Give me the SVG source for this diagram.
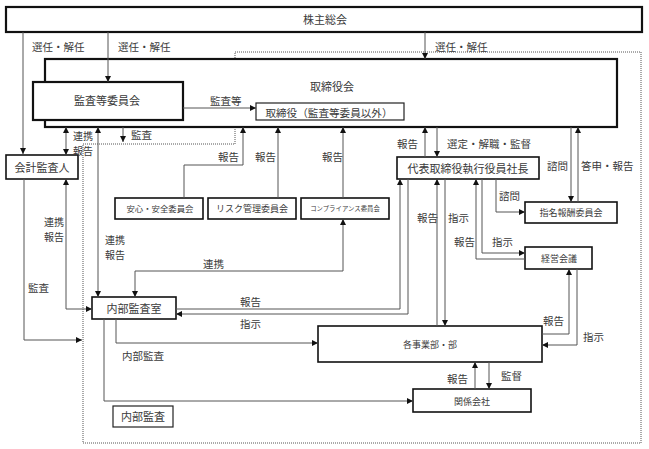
<svg xmlns="http://www.w3.org/2000/svg" width="649" height="449" viewBox="0 0 649 449">
<defs>
<marker id="ah" viewBox="0 0 6 6" refX="6" refY="3" markerWidth="6" markerHeight="6" orient="auto-start-reverse" markerUnits="userSpaceOnUse"><path d="M0,0 L6,3 L0,6 z" fill="#111"/></marker>
<style>
text{font-family:"Noto Sans CJK JP","Noto Sans",sans-serif;fill:#3a3a3a;dominant-baseline:central}
.lbl{font-size:10.5px}
.two{font-size:10px}
.nt{font-size:11px;text-anchor:middle}
.st{font-size:9px;text-anchor:middle}
.thick{fill:#fff;stroke:#111;stroke-width:2.2}
.mid{fill:#fff;stroke:#111;stroke-width:1.6}
.thin{fill:#fff;stroke:#222;stroke-width:1.2}
.c{fill:none;stroke:#555;stroke-width:1;marker-end:url(#ah)}
.d{fill:none;stroke:#555;stroke-width:1;marker-start:url(#ah);marker-end:url(#ah)}
.dot{fill:none;stroke:#555;stroke-width:1;stroke-dasharray:1,1}
</style>
</defs>
<rect width="649" height="449" fill="#fff"/>
<polygon class="dot" points="83,144 235,144 235,52 641,52 641,443 83,443"/>
<g id="n-kabunushi"><rect class="thick" x="6" y="7" width="636" height="25"/><text class="nt" x="325" y="19">株主総会</text></g>
<g id="n-torishimariyakukai"><rect class="thick" x="45" y="59" width="572" height="68"/><text class="nt" x="332" y="86">取締役会</text></g>
<g id="n-kansa"><rect class="thick" x="33" y="82" width="150" height="38"/><text class="nt" x="107" y="100">監査等委員会</text></g>
<g id="n-torishimariyaku"><rect class="thin" x="256" y="103" width="148" height="17"/><text class="nt" x="329" y="112" style="font-size:10.6px">取締役（監査等委員以外）</text></g>
<g id="n-kaikei"><rect class="mid" x="6" y="155" width="72" height="24"/><text class="nt" x="42" y="167">会計監査人</text></g>
<g id="n-shacho"><rect class="mid" x="397" y="157" width="142" height="22"/><text class="nt" x="468" y="168">代表取締役執行役員社長</text></g>
<g id="n-anshin"><rect class="mid" x="115" y="198" width="88" height="21"/><text class="st" x="160" y="208" style="font-size:8.4px">安心・安全委員会</text></g>
<g id="n-risk"><rect class="mid" x="208" y="198" width="88" height="21"/><text class="st" x="252" y="208">リスク管理委員会</text></g>
<g id="n-comp"><rect class="mid" x="301" y="198" width="88" height="21"/><text class="st" x="345" y="208" style="font-size:6.4px">コンプライアンス委員会</text></g>
<g id="n-shimei"><rect class="mid" x="525" y="202" width="92" height="21"/><text class="st" x="571" y="212">指名報酬委員会</text></g>
<g id="n-keiei"><rect class="mid" x="525" y="247" width="67" height="22"/><text class="st" x="559" y="258">経営会議</text></g>
<g id="n-naibu"><rect class="mid" x="92" y="297" width="84" height="22"/><text class="nt" x="134" y="308">内部監査室</text></g>
<g id="n-jigyo"><rect class="mid" x="318" y="326" width="224" height="36"/><text class="st" x="430" y="344">各事業部・部</text></g>
<g id="n-kankei"><rect class="mid" x="413" y="389" width="118" height="23"/><text class="st" x="472" y="401">関係会社</text></g>
<g id="n-naibukansa-box"><rect class="thin" x="113" y="406" width="60" height="21"/><text class="nt" x="143" y="416">内部監査</text></g>
<g id="connectors">
<path class="c" d="M23,32 V154"/>
<path class="c" d="M108,32 V82"/>
<path class="c" d="M425,32 V59"/>
<path class="c" d="M183,108 H256"/>
<path class="d" d="M66,127 V155"/>
<path class="d" d="M98,127 V297"/>
<path class="c" d="M123,127 V142"/>
<path class="c" d="M24,179 V340 H82"/>
<path class="d" d="M66,179 V309 H92"/>
<path class="d" d="M343,219 V271 H135 V297"/>
<path class="c" d="M184,198 V165 H243 V127"/>
<path class="c" d="M278,198 V127"/>
<path class="c" d="M343,198 V127"/>
<path class="c" d="M425,157 V127"/>
<path class="c" d="M437,127 V157"/>
<path class="c" d="M571,127 V202"/>
<path class="c" d="M578,202 V127"/>
<path class="c" d="M496,179 V212 H525"/>
<path class="c" d="M482,179 V253 H525"/>
<path class="c" d="M525,259 H476 V179"/>
<path class="c" d="M176,309 H400 V179"/>
<path class="c" d="M408,179 V314 H176"/>
<path class="c" d="M437,326 V179"/>
<path class="c" d="M445,179 V326"/>
<path class="c" d="M542,334 H569 V269"/>
<path class="c" d="M577,269 V345 H542"/>
<path class="c" d="M475,389 V362"/>
<path class="c" d="M489,362 V389"/>
<path class="c" d="M116,319 V343 H318"/>
<path class="c" d="M104,319 V401 H413"/>
</g>
<g id="labels">
<text class="lbl" x="32" y="46">選任・解任</text>
<text class="lbl" x="118" y="46">選任・解任</text>
<text class="lbl" x="435" y="46">選任・解任</text>
<text class="lbl" x="210" y="100">監査等</text>
<text class="two" x="73" y="135">連携<tspan x="73" dy="14.5">報告</tspan></text>
<text class="lbl" x="131" y="134">監査</text>
<text class="two" x="44" y="221">連携<tspan x="44" dy="14.5">報告</tspan></text>
<text class="lbl" x="28" y="287">監査</text>
<text class="two" x="105" y="239">連携<tspan x="105" dy="14.5">報告</tspan></text>
<text class="lbl" x="203" y="263">連携</text>
<text class="lbl" x="218" y="156">報告</text>
<text class="lbl" x="255" y="156">報告</text>
<text class="lbl" x="322" y="156">報告</text>
<text class="lbl" x="397" y="143">報告</text>
<text class="lbl" x="447" y="143">選定・解職・監督</text>
<text class="lbl" x="547" y="165">諮問</text>
<text class="lbl" x="581" y="165">答申・報告</text>
<text class="lbl" x="499" y="195">諮問</text>
<text class="lbl" x="417" y="217">報告</text>
<text class="lbl" x="448" y="217">指示</text>
<text class="lbl" x="454" y="241">報告</text>
<text class="lbl" x="492" y="241">指示</text>
<text class="lbl" x="240" y="301">報告</text>
<text class="lbl" x="240" y="323">指示</text>
<text class="lbl" x="122" y="355">内部監査</text>
<text class="lbl" x="543" y="320">報告</text>
<text class="lbl" x="583" y="336">指示</text>
<text class="lbl" x="447" y="378">報告</text>
<text class="lbl" x="501" y="375">監督</text>
</g>
</svg>
